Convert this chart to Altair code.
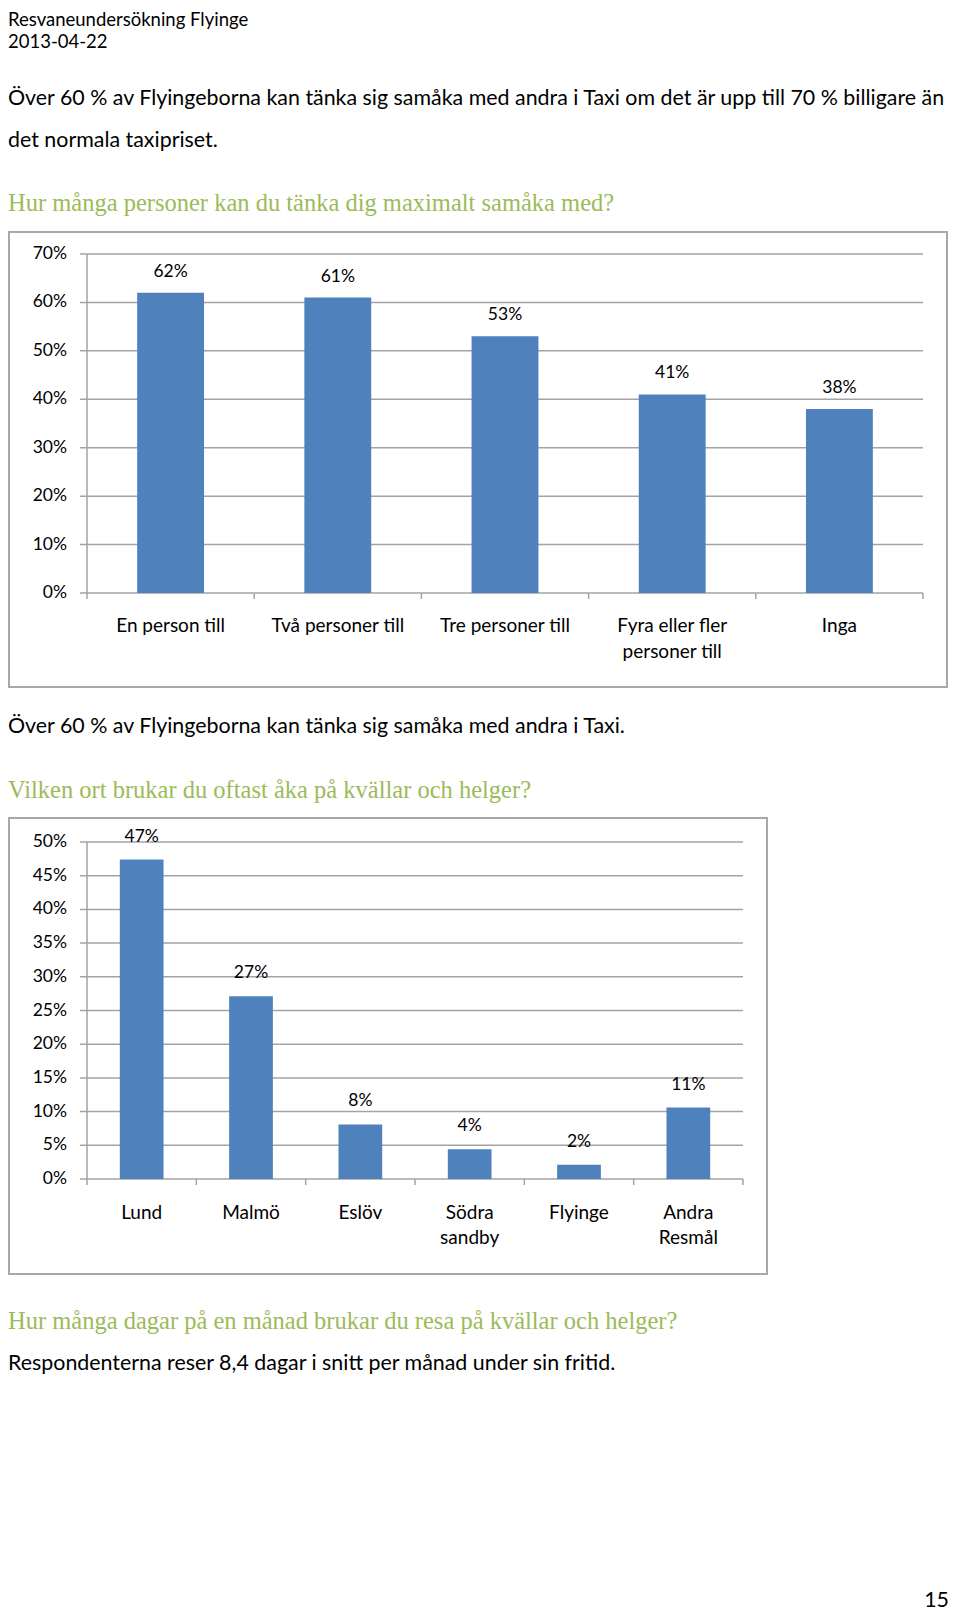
import altair as alt
import pandas as pd

# ---------------- data ----------------
cats1 = ["En person till", "Två personer till", "Tre personer till",
         "Fyra eller fler\npersoner till", "Inga"]
vals1 = [0.62, 0.61, 0.53, 0.41, 0.38]
ticks1 = [0.0, 0.1, 0.2, 0.3, 0.4, 0.5, 0.6, 0.7]

cats2 = ["Lund", "Malmö", "Eslöv", "Södra\nsandby", "Flyinge", "Andra\nResmål"]
vals2 = [0.474, 0.271, 0.081, 0.044, 0.021, 0.106]
ticks2 = [0.0, 0.05, 0.10, 0.15, 0.20, 0.25, 0.30, 0.35, 0.40, 0.45, 0.50]

header_lines = ["Resvaneundersökning Flyinge", "2013-04-22"]
para1 = ["Över 60 % av Flyingeborna kan tänka sig samåka med andra i Taxi om det är upp till 70 % billigare än",
         "det normala taxipriset."]
q1 = "Hur många personer kan du tänka dig maximalt samåka med?"
para2 = "Över 60 % av Flyingeborna kan tänka sig samåka med andra i Taxi."
q2 = "Vilken ort brukar du oftast åka på kvällar och helger?"
q3 = "Hur många dagar på en månad brukar du resa på kvällar och helger?"
para3 = "Respondenterna reser 8,4 dagar i snitt per månad under sin fritid."
page_no = "15"

# ---------------- styling ----------------
SANS = "Lato"
SERIF = "Liberation Serif"
GREEN = "#9BBB59"
BAR = "#4F81BD"
GRID = "#A3A3A3"
BOX = "#A8A8A8"
BODY_FS = 21.4
HEADER_FS = 18.5
HEAD_FS = 24.5
AX_FS = 17.5
CAT_FS = 19

W, H = 944, 1603

layers = []


def text_layer(s, x, y, size=BODY_FS, color="black", font=SANS, align="left"):
    return alt.Chart(pd.DataFrame({"t": [s]})).mark_text(
        align=align, baseline="middle", font=font, fontSize=size, color=color
    ).encode(text="t:N", x=alt.value(x), y=alt.value(y))


# page texts
layers.append(text_layer(header_lines[0], 0, 12, size=HEADER_FS))
layers.append(text_layer(header_lines[1], 0, 34, size=HEADER_FS))
layers.append(text_layer(para1[0], 0, 91))
layers.append(text_layer(para1[1], 0, 133))
layers.append(text_layer(q1, 0, 196, size=HEAD_FS, color=GREEN, font=SERIF))
layers.append(text_layer(para2, 0, 719))
layers.append(text_layer(q2, 0, 783, size=HEAD_FS, color=GREEN, font=SERIF))
layers.append(text_layer(q3, 0, 1314, size=HEAD_FS, color=GREEN, font=SERIF))
layers.append(text_layer(para3, 0, 1356))
layers.append(text_layer(page_no, 941, 1593, align="right"))


def bar_chart(cats, vals, ticks, ymax, box, xr, yr, ylab_x, lab_dy, cat_y):
    df = pd.DataFrame({"cat": cats, "val": vals})
    tdf = pd.DataFrame({"tick": ticks})
    bdf = pd.DataFrame({"b": list(range(len(cats) + 1))})
    xs = alt.Scale(domain=cats, range=xr, paddingInner=0.6, paddingOuter=0.3)
    ys = alt.Scale(domain=[0, ymax], range=yr, nice=False, zero=True)
    xq = alt.Scale(domain=[0, len(cats)], range=xr, nice=False, zero=False)
    out = []
    # frame
    out.append(alt.Chart(pd.DataFrame({"d": [0]})).mark_rect(
        fill="white", stroke=BOX, strokeWidth=2
    ).encode(x=alt.value(box[0]), x2=alt.value(box[1]),
             y=alt.value(box[2]), y2=alt.value(box[3])))
    # gridlines + y ticks
    out.append(alt.Chart(tdf).mark_rule(color=GRID, strokeWidth=1.5).encode(
        y=alt.Y("tick:Q", scale=ys, axis=None),
        x=alt.value(xr[0] - 7), x2=alt.value(xr[1])))
    # y axis line
    out.append(alt.Chart(pd.DataFrame({"lo": [0.0], "hi": [ymax]})).mark_rule(
        color=GRID, strokeWidth=1.5).encode(
        y=alt.Y("hi:Q", scale=ys, axis=None), y2="lo:Q", x=alt.value(xr[0])))
    # x ticks at category boundaries
    out.append(alt.Chart(bdf).mark_rule(color=GRID, strokeWidth=1.5).encode(
        x=alt.X("b:Q", scale=xq, axis=None),
        y=alt.value(yr[0]), y2=alt.value(yr[0] + 6)))
    # y labels
    out.append(alt.Chart(tdf).mark_text(
        align="right", baseline="middle", font=SANS, fontSize=AX_FS, color="black"
    ).encode(y=alt.Y("tick:Q", scale=ys, axis=None),
             text=alt.Text("tick:Q", format=".0%"), x=alt.value(ylab_x)))
    # bars
    out.append(alt.Chart(df).mark_bar(color=BAR).encode(
        x=alt.X("cat:N", scale=xs, sort=None, axis=None),
        y=alt.Y("val:Q", scale=ys, axis=None)))
    # value labels
    out.append(alt.Chart(df).mark_text(
        baseline="middle", font=SANS, fontSize=AX_FS, color="black", dy=lab_dy
    ).encode(x=alt.X("cat:N", scale=xs, sort=None, axis=None),
             y=alt.Y("val:Q", scale=ys, axis=None),
             text=alt.Text("val:Q", format=".0%")))
    # category labels
    out.append(alt.Chart(df).mark_text(
        baseline="top", font=SANS, fontSize=CAT_FS, color="black",
        lineBreak="\n", lineHeight=25.5
    ).encode(x=alt.X("cat:N", scale=xs, sort=None, axis=None),
             y=alt.value(cat_y), text="cat:N"))
    return out


layers += bar_chart(cats1, vals1, ticks1, 0.7,
                    box=[1, 939, 224, 679], xr=[79, 915], yr=[585, 246],
                    ylab_x=59, lab_dy=-21, cat_y=609)
layers += bar_chart(cats2, vals2, ticks2, 0.5,
                    box=[1, 759, 810, 1266], xr=[79, 735], yr=[1171, 834],
                    ylab_x=59, lab_dy=-23, cat_y=1195.5)

chart = alt.layer(*layers).resolve_scale(
    x="independent", y="independent"
).properties(
    width=W, height=H, autosize=alt.AutoSizeParams(type="none"), padding=0,
    background="white"
).configure_view(stroke=None)

chart.save("out.html", embed_options={"renderer": "svg", "actions": False})
